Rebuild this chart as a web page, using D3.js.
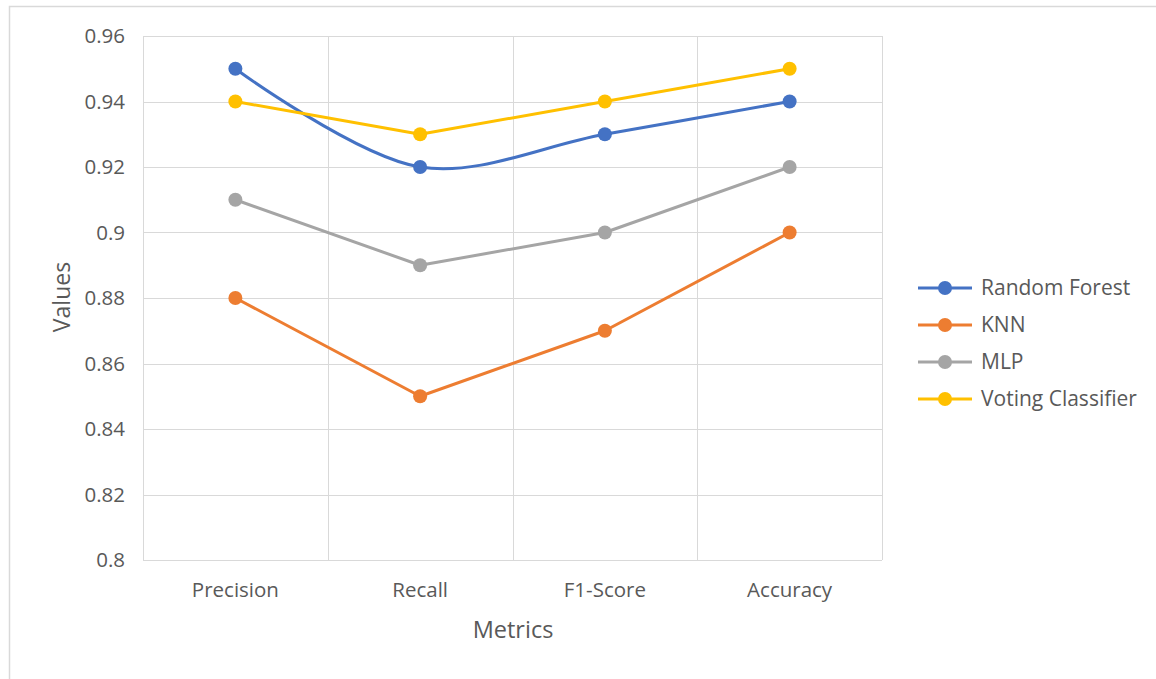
<!DOCTYPE html>
<html><head><meta charset="utf-8">
<script src="https://cdn.jsdelivr.net/npm/d3@7"></script>
<style>body{margin:0;background:#fff}svg{display:block}text{font-family:"Open Sans","Liberation Sans",sans-serif;fill:#595959}</style>
</head><body>
<script>
const categories = ["Precision", "Recall", "F1-Score", "Accuracy"];
const seriesNames = ["Random Forest", "KNN", "MLP", "Voting Classifier"];
const randomForest = [0.95, 0.92, 0.93, 0.94];
const knn = [0.88, 0.85, 0.87, 0.90];
const mlp = [0.91, 0.89, 0.90, 0.92];
const voting = [0.94, 0.93, 0.94, 0.95];
const yTicks = [0.8, 0.82, 0.84, 0.86, 0.88, 0.9, 0.92, 0.94, 0.96];
const colors = ["#4472C4", "#ED7D31", "#A5A5A5", "#FFC000"];
const smooth = [true, false, false, false];
const seriesValues = [randomForest, knn, mlp, voting];

(function () {
const W = 1156, H = 679;
const svg = d3.select("body").append("svg").attr("width", W).attr("height", H);
svg.append("rect").attr("x", 9.5).attr("y", 6.5).attr("width", 1200).attr("height", 700)
  .attr("fill", "#fff").attr("stroke", "#d9d9d9").attr("stroke-width", 1.5);

const pL = 143, pR = 882, pT = 36, pB = 560;
const x = d3.scaleBand().domain(categories).range([pL, pR]);
const y = d3.scaleLinear().domain([0.8, 0.96]).range([pB, pT]);

svg.append("g").selectAll("line").data(yTicks).join("line")
  .attr("x1", pL).attr("x2", pR)
  .attr("y1", d => Math.round(y(d)) + 0.5).attr("y2", d => Math.round(y(d)) + 0.5)
  .attr("stroke", "#d9d9d9").attr("stroke-width", 1);
const vb = categories.map(c => x(c)).concat([pR]);
svg.append("g").selectAll("line").data(vb).join("line")
  .attr("x1", d => Math.round(d) + 0.5).attr("x2", d => Math.round(d) + 0.5)
  .attr("y1", pT).attr("y2", pB)
  .attr("stroke", "#d9d9d9").attr("stroke-width", 1);

const yAxis = d3.axisLeft(y).tickValues(yTicks).tickSize(0).tickPadding(18)
  .tickFormat(d => String(+d.toFixed(2)));
const gy = svg.append("g").attr("transform", `translate(${pL},0)`).call(yAxis);
gy.select(".domain").remove();
gy.selectAll("text").attr("font-size", 20.5).style("fill", "#595959")
  .attr("font-family", "'Open Sans','Liberation Sans',sans-serif");

const xAxis = d3.axisBottom(x).tickSize(0).tickPadding(22);
const gx = svg.append("g").attr("transform", `translate(0,${pB})`).call(xAxis);
gx.select(".domain").remove();
gx.selectAll("text").attr("font-size", 20.5).style("fill", "#595959")
  .attr("font-family", "'Open Sans','Liberation Sans',sans-serif");

svg.append("text").attr("x", 513).attr("y", 638).attr("text-anchor", "middle")
  .attr("font-size", 23.5).text("Metrics");
svg.append("text").attr("transform", "translate(70,297) rotate(-90)").attr("text-anchor", "middle")
  .attr("font-size", 23).text("Values");

const cx = c => x(c) + x.bandwidth() / 2;
seriesValues.forEach((vals, i) => {
  const pts = vals.map((v, j) => [cx(categories[j]), y(v)]);
  const line = d3.line().curve(smooth[i] ? d3.curveCatmullRom.alpha(0.5) : d3.curveLinear);
  svg.append("path").attr("d", line(pts)).attr("fill", "none")
    .attr("stroke", colors[i]).attr("stroke-width", 3).attr("stroke-linejoin", "round");
  svg.append("g").selectAll("circle").data(pts).join("circle")
    .attr("cx", d => d[0]).attr("cy", d => d[1]).attr("r", 7).attr("fill", colors[i]);
});

const lg = svg.append("g");
seriesNames.forEach((n, i) => {
  const ly = 288 + i * 37;
  lg.append("line").attr("x1", 918).attr("x2", 972).attr("y1", ly).attr("y2", ly)
    .attr("stroke", colors[i]).attr("stroke-width", 3);
  lg.append("circle").attr("cx", 945).attr("cy", ly).attr("r", 7).attr("fill", colors[i]);
  lg.append("text").attr("x", 981).attr("y", ly).attr("dy", "0.35em").attr("font-size", 21).text(n);
});
})();
</script>
</body></html>
